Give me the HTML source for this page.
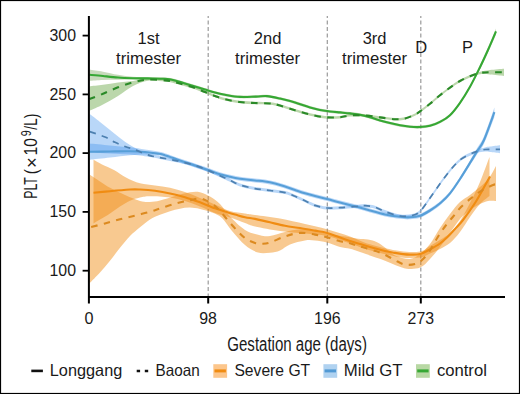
<!DOCTYPE html>
<html><head><meta charset="utf-8"><style>
html,body{margin:0;padding:0;background:#fff;}
body{width:520px;height:394px;overflow:hidden;position:relative;font-family:"Liberation Sans",sans-serif;}
</style></head><body>
<svg width="520" height="394" viewBox="0 0 520 394" style="position:absolute;left:0;top:0">
<rect x="0" y="0" width="520" height="394" fill="#fff"/>
<line x1="208.2" y1="16" x2="208.2" y2="297" stroke="#9a9a9a" stroke-width="1.2" stroke-dasharray="4 2.5" stroke-dashoffset="1.9"/>
<line x1="327.3" y1="16" x2="327.3" y2="297" stroke="#9a9a9a" stroke-width="1.2" stroke-dasharray="4 2.5" stroke-dashoffset="1.9"/>
<line x1="420.8" y1="16" x2="420.8" y2="297" stroke="#9a9a9a" stroke-width="1.2" stroke-dasharray="4 2.5" stroke-dashoffset="1.9"/>
<path d="M89.5 69.5C91.8 69.9 98.2 70.8 103.0 71.7C107.8 72.6 113.0 74.0 118.0 74.8C123.0 75.6 128.0 76.4 133.0 76.8C138.0 77.2 142.7 77.1 148.0 77.2C153.3 77.3 160.5 77.1 165.0 77.4C169.5 77.7 171.7 78.2 175.0 79.0C178.3 79.8 181.7 81.1 185.0 82.1C188.3 83.1 191.7 84.1 195.0 85.1C198.3 86.1 201.7 87.2 205.0 88.2C208.3 89.2 211.7 90.3 215.0 91.2C218.3 92.1 220.8 92.7 225.0 93.4C229.2 94.1 234.8 95.2 240.0 95.5C245.2 95.8 251.5 95.3 256.0 95.2C260.5 95.1 263.0 94.4 267.0 94.7C271.0 95.0 275.3 96.1 280.0 97.2C284.7 98.3 290.0 99.6 295.0 101.1C300.0 102.6 305.0 104.6 310.0 106.0C315.0 107.4 320.0 108.6 325.0 109.4C330.0 110.2 335.8 110.6 340.0 111.0C344.2 111.4 346.7 111.6 350.0 112.0C353.3 112.4 356.7 112.7 360.0 113.3C363.3 113.9 366.7 114.9 370.0 115.9C373.3 116.8 376.7 118.0 380.0 119.0C383.3 120.0 386.7 120.9 390.0 121.7C393.3 122.5 396.7 123.3 400.0 123.9C403.3 124.5 406.7 125.0 410.0 125.3C413.3 125.6 416.7 125.8 420.0 125.6C423.3 125.4 426.7 125.1 430.0 124.3C433.3 123.5 436.7 122.2 440.0 120.5C443.3 118.8 446.7 117.0 450.0 113.8C453.3 110.6 456.7 106.1 460.0 101.4C463.3 96.7 466.7 91.4 470.0 85.4C473.3 79.4 477.0 71.4 480.0 65.1C483.0 58.8 485.3 53.6 488.0 47.5C490.7 41.3 494.7 31.6 496.0 28.4L496.0 34.4C494.7 37.4 490.7 46.7 488.0 52.5C485.3 58.4 483.0 63.3 480.0 69.3C477.0 75.2 473.3 82.4 470.0 88.2C466.7 94.0 463.3 99.5 460.0 104.2C456.7 108.9 453.3 113.4 450.0 116.6C446.7 119.8 443.3 121.6 440.0 123.3C436.7 125.1 433.3 126.3 430.0 127.1C426.7 128.0 423.3 128.2 420.0 128.4C416.7 128.6 413.3 128.4 410.0 128.1C406.7 127.8 403.3 127.3 400.0 126.7C396.7 126.1 393.3 125.3 390.0 124.5C386.7 123.7 383.3 122.8 380.0 121.8C376.7 120.8 373.3 119.7 370.0 118.7C366.7 117.8 363.3 116.8 360.0 116.1C356.7 115.5 353.3 115.2 350.0 114.8C346.7 114.4 344.2 114.2 340.0 113.8C335.8 113.4 330.0 113.0 325.0 112.2C320.0 111.4 315.0 110.2 310.0 108.8C305.0 107.4 300.0 105.4 295.0 103.9C290.0 102.4 284.7 101.1 280.0 100.0C275.3 98.9 271.0 97.8 267.0 97.5C263.0 97.2 260.5 97.9 256.0 98.0C251.5 98.1 245.2 98.6 240.0 98.3C234.8 98.0 229.2 96.9 225.0 96.2C220.8 95.5 218.3 94.9 215.0 94.0C211.7 93.1 208.3 92.0 205.0 91.0C201.7 90.0 198.3 88.9 195.0 87.9C191.7 86.9 188.3 85.9 185.0 84.9C181.7 83.9 178.3 82.6 175.0 81.8C171.7 81.0 169.5 80.5 165.0 80.2C160.5 79.9 153.3 79.9 148.0 79.8C142.7 79.7 138.0 79.6 133.0 79.6C128.0 79.6 123.0 79.7 118.0 79.8C113.0 79.9 107.8 79.9 103.0 80.1C98.2 80.3 91.8 80.8 89.5 80.9Z" fill="#7aa85e" fill-opacity="0.42"/>
<path d="M89.5 86.2C91.8 86.0 98.2 85.3 103.0 84.7C107.8 84.1 113.0 83.0 118.0 82.4C123.0 81.8 128.0 81.6 133.0 80.9C138.0 80.2 142.7 78.6 148.0 78.3C153.3 78.0 160.5 78.8 165.0 79.2C169.5 79.7 171.7 80.2 175.0 81.0C178.3 81.8 181.7 82.8 185.0 83.8C188.3 84.8 191.7 85.6 195.0 86.8C198.3 88.0 201.7 89.5 205.0 90.8C208.3 92.1 211.7 93.6 215.0 94.8C218.3 96.0 220.8 97.0 225.0 98.0C229.2 99.0 235.0 100.2 240.0 100.8C245.0 101.4 250.0 101.5 255.0 101.8C260.0 102.0 265.8 101.9 270.0 102.3C274.2 102.7 275.8 103.2 280.0 104.3C284.2 105.4 290.0 107.6 295.0 109.1C300.0 110.6 305.0 112.1 310.0 113.3C315.0 114.5 320.0 115.5 325.0 116.0C330.0 116.5 335.8 116.3 340.0 116.0C344.2 115.7 345.8 114.5 350.0 114.2C354.2 113.9 360.0 113.9 365.0 114.2C370.0 114.5 375.0 115.6 380.0 116.2C385.0 116.8 390.8 117.8 395.0 118.0C399.2 118.2 401.7 118.1 405.0 117.3C408.3 116.5 412.5 114.6 415.0 113.4C417.5 112.2 417.5 112.0 420.0 110.2C422.5 108.4 426.7 105.3 430.0 102.6C433.3 99.9 436.7 96.7 440.0 94.0C443.3 91.3 446.7 88.8 450.0 86.4C453.3 84.0 456.7 81.7 460.0 79.8C463.3 77.9 466.7 76.3 470.0 75.0C473.3 73.7 476.7 72.6 480.0 71.8C483.3 71.0 486.0 70.5 490.0 70.0C494.0 69.5 501.7 68.9 504.0 68.7L504.0 75.9C501.7 75.6 494.0 74.7 490.0 74.4C486.0 74.1 483.3 73.7 480.0 74.2C476.7 74.7 473.3 76.1 470.0 77.4C466.7 78.7 463.3 80.3 460.0 82.2C456.7 84.1 453.3 86.4 450.0 88.8C446.7 91.2 443.3 93.7 440.0 96.4C436.7 99.1 433.3 102.3 430.0 105.0C426.7 107.7 422.5 110.8 420.0 112.6C417.5 114.4 417.5 114.6 415.0 115.8C412.5 117.0 408.3 118.9 405.0 119.7C401.7 120.5 399.2 120.6 395.0 120.4C390.8 120.2 385.0 119.2 380.0 118.6C375.0 118.0 370.0 116.9 365.0 116.6C360.0 116.3 354.2 116.3 350.0 116.6C345.8 116.9 344.2 118.1 340.0 118.4C335.8 118.7 330.0 118.9 325.0 118.4C320.0 118.0 315.0 116.9 310.0 115.7C305.0 114.5 300.0 113.0 295.0 111.5C290.0 110.0 284.2 107.8 280.0 106.7C275.8 105.6 274.2 105.1 270.0 104.7C265.8 104.3 260.0 104.5 255.0 104.2C250.0 104.0 245.0 103.8 240.0 103.2C235.0 102.6 229.2 101.4 225.0 100.4C220.8 99.4 218.3 98.4 215.0 97.2C211.7 96.0 208.3 94.5 205.0 93.2C201.7 91.9 198.3 90.4 195.0 89.2C191.7 88.0 188.3 87.2 185.0 86.2C181.7 85.2 178.3 84.2 175.0 83.4C171.7 82.6 169.5 82.0 165.0 81.6C160.5 81.2 153.3 80.1 148.0 80.8C142.7 81.5 138.0 83.5 133.0 86.0C128.0 88.5 123.0 92.9 118.0 96.0C113.0 99.1 107.8 102.0 103.0 104.5C98.2 107.0 91.8 109.8 89.5 110.8Z" fill="#6aa848" fill-opacity="0.46"/>
<path d="M89.5 143.5C92.9 143.8 103.2 144.8 110.0 145.4C116.8 146.0 124.2 146.6 130.0 147.3C135.8 147.9 140.3 148.8 145.0 149.5C149.7 150.2 154.7 151.0 158.0 151.6C161.3 152.2 161.3 152.0 165.0 153.2C168.7 154.3 175.0 156.8 180.0 158.5C185.0 160.2 190.3 162.0 195.0 163.6C199.7 165.2 203.8 166.6 208.0 168.0C212.2 169.4 216.3 171.1 220.0 172.2C223.7 173.3 226.7 174.0 230.0 174.8C233.3 175.6 235.8 176.2 240.0 176.8C244.2 177.4 250.8 178.1 255.0 178.5C259.2 178.9 261.7 179.0 265.0 179.5C268.3 180.0 271.7 180.7 275.0 181.5C278.3 182.3 281.7 183.5 285.0 184.6C288.3 185.7 291.7 186.9 295.0 188.0C298.3 189.1 301.7 190.3 305.0 191.3C308.3 192.3 311.3 193.1 315.0 194.0C318.7 194.9 322.8 195.9 327.0 197.0C331.2 198.1 335.3 199.3 340.0 200.5C344.7 201.7 350.0 202.9 355.0 204.2C360.0 205.5 365.0 207.1 370.0 208.5C375.0 209.9 380.0 211.4 385.0 212.5C390.0 213.6 395.8 214.3 400.0 214.8C404.2 215.3 406.7 215.5 410.0 215.3C413.3 215.1 416.7 214.9 420.0 213.8C423.3 212.7 426.5 210.7 430.0 208.5C433.5 206.3 437.7 203.4 441.0 200.5C444.3 197.6 446.8 195.2 450.0 191.3C453.2 187.4 456.7 182.1 460.0 177.0C463.3 171.9 467.2 165.2 470.0 160.4C472.8 155.6 474.7 152.3 477.0 148.3C479.3 144.2 481.1 143.0 484.0 136.2C486.9 129.4 492.7 112.2 494.4 107.4L494.4 117.0C492.7 121.5 486.9 137.6 484.0 143.8C481.1 150.1 479.3 150.9 477.0 154.5C474.7 158.1 472.8 161.0 470.0 165.4C467.2 169.8 463.3 176.0 460.0 181.0C456.7 186.0 453.2 191.4 450.0 195.3C446.8 199.2 444.3 201.6 441.0 204.5C437.7 207.4 433.5 210.3 430.0 212.5C426.5 214.7 423.3 216.7 420.0 217.8C416.7 218.9 413.3 219.1 410.0 219.3C406.7 219.5 404.2 219.3 400.0 218.8C395.8 218.3 390.0 217.6 385.0 216.5C380.0 215.4 375.0 213.9 370.0 212.5C365.0 211.1 360.0 209.5 355.0 208.2C350.0 206.9 344.7 205.7 340.0 204.5C335.3 203.3 331.2 202.1 327.0 201.0C322.8 199.9 318.7 198.9 315.0 198.0C311.3 197.1 308.3 196.3 305.0 195.3C301.7 194.3 298.3 193.1 295.0 192.0C291.7 190.9 288.3 189.7 285.0 188.6C281.7 187.5 278.3 186.3 275.0 185.5C271.7 184.7 268.3 184.0 265.0 183.5C261.7 183.0 259.2 182.9 255.0 182.5C250.8 182.1 244.2 181.4 240.0 180.8C235.8 180.2 233.3 179.6 230.0 178.8C226.7 178.0 223.7 177.3 220.0 176.2C216.3 175.1 212.2 173.4 208.0 172.0C203.8 170.6 199.7 169.2 195.0 167.6C190.3 166.0 185.0 164.2 180.0 162.5C175.0 160.8 168.7 158.3 165.0 157.2C161.3 156.0 161.3 156.0 158.0 155.6C154.7 155.2 149.7 154.6 145.0 154.5C140.3 154.5 135.8 154.8 130.0 155.3C124.2 155.9 116.8 156.8 110.0 157.6C103.2 158.4 92.9 159.5 89.5 159.9Z" fill="#3c91eb" fill-opacity="0.36"/>
<path d="M89.5 113.8C91.2 115.2 96.6 119.2 100.0 121.9C103.4 124.6 106.7 127.2 110.0 129.9C113.3 132.6 116.7 135.4 120.0 137.9C123.3 140.4 126.7 142.9 130.0 145.0C133.3 147.1 136.7 149.0 140.0 150.5C143.3 152.0 145.8 153.0 150.0 154.1C154.2 155.2 160.0 156.0 165.0 157.0C170.0 158.0 175.0 158.8 180.0 160.0C185.0 161.2 190.3 162.4 195.0 163.9C199.7 165.4 203.8 167.1 208.0 168.8C212.2 170.5 216.3 172.6 220.0 174.3C223.7 176.0 226.7 177.3 230.0 178.8C233.3 180.3 235.8 182.1 240.0 183.5C244.2 184.9 250.0 186.2 255.0 187.1C260.0 188.0 265.0 188.3 270.0 189.0C275.0 189.7 280.8 190.1 285.0 191.1C289.2 192.1 291.7 193.4 295.0 194.8C298.3 196.2 301.7 197.8 305.0 199.3C308.3 200.8 311.3 202.7 315.0 203.9C318.7 205.1 322.8 206.1 327.0 206.5C331.2 206.9 335.3 206.4 340.0 206.2C344.7 205.9 350.8 205.3 355.0 205.0C359.2 204.7 361.7 204.1 365.0 204.2C368.3 204.3 371.7 204.7 375.0 205.7C378.3 206.7 380.8 208.5 385.0 210.0C389.2 211.5 395.5 213.8 400.0 214.5C404.5 215.2 408.7 214.8 412.0 214.0C415.3 213.2 417.0 212.9 420.0 210.0C423.0 207.1 426.7 201.2 430.0 196.6C433.3 192.0 436.7 186.9 440.0 182.3C443.3 177.7 446.7 173.0 450.0 169.0C453.3 165.0 456.7 161.2 460.0 158.5C463.3 155.8 467.2 154.2 470.0 152.8C472.8 151.4 474.5 150.8 477.0 149.9C479.5 149.0 482.8 147.9 485.0 147.4C487.2 146.8 487.5 146.9 490.0 146.6C492.5 146.2 498.3 145.5 500.0 145.3L500.0 153.3C498.3 153.1 492.5 152.3 490.0 152.1C487.5 151.8 487.2 151.5 485.0 151.6C482.8 151.8 479.5 152.2 477.0 152.9C474.5 153.6 472.8 154.4 470.0 155.8C467.2 157.2 463.3 158.8 460.0 161.5C456.7 164.2 453.3 168.0 450.0 172.0C446.7 176.0 443.3 180.7 440.0 185.3C436.7 189.9 433.3 195.0 430.0 199.6C426.7 204.2 423.0 210.1 420.0 213.0C417.0 215.9 415.3 216.2 412.0 217.0C408.7 217.8 404.5 218.2 400.0 217.5C395.5 216.8 389.2 214.5 385.0 213.0C380.8 211.5 378.3 209.7 375.0 208.7C371.7 207.7 368.3 207.3 365.0 207.2C361.7 207.1 359.2 207.7 355.0 208.0C350.8 208.3 344.7 208.9 340.0 209.2C335.3 209.4 331.2 209.9 327.0 209.5C322.8 209.1 318.7 208.1 315.0 206.9C311.3 205.7 308.3 203.8 305.0 202.3C301.7 200.8 298.3 199.2 295.0 197.8C291.7 196.4 289.2 195.1 285.0 194.1C280.8 193.1 275.0 192.7 270.0 192.0C265.0 191.3 260.0 191.0 255.0 190.1C250.0 189.2 244.2 187.9 240.0 186.5C235.8 185.1 233.3 183.3 230.0 181.8C226.7 180.3 223.7 179.0 220.0 177.3C216.3 175.6 212.2 173.5 208.0 171.8C203.8 170.1 199.7 168.4 195.0 166.9C190.3 165.4 185.0 164.2 180.0 163.0C175.0 161.8 170.0 161.0 165.0 160.0C160.0 159.0 154.2 157.8 150.0 157.1C145.8 156.3 143.3 155.9 140.0 155.5C136.7 155.1 133.3 154.8 130.0 154.5C126.7 154.2 123.3 154.2 120.0 154.0C116.7 153.8 113.3 153.7 110.0 153.5C106.7 153.3 103.4 153.2 100.0 153.0C96.6 152.8 91.2 152.5 89.5 152.4Z" fill="#3c91eb" fill-opacity="0.36"/>
<path d="M93.5 159.8C94.9 160.6 98.6 162.8 102.0 164.5C105.4 166.2 110.0 167.8 114.0 170.0C118.0 172.2 121.7 175.3 126.0 177.5C130.3 179.7 135.2 182.0 140.0 183.3C144.8 184.6 150.0 184.8 155.0 185.5C160.0 186.2 165.0 186.7 170.0 187.8C175.0 188.9 180.0 190.3 185.0 192.0C190.0 193.7 195.0 195.9 200.0 198.0C205.0 200.1 210.0 202.3 215.0 204.5C220.0 206.7 225.0 209.5 230.0 211.0C235.0 212.5 240.8 212.8 245.0 213.5C249.2 214.2 249.2 214.2 255.0 215.0C260.8 215.8 271.7 217.0 280.0 218.5C288.3 220.0 297.2 222.2 305.0 224.0C312.8 225.8 319.5 227.2 327.0 229.3C334.5 231.4 342.8 233.9 350.0 236.4C357.2 238.9 361.7 241.8 370.0 244.2C378.3 246.6 391.7 249.9 400.0 251.1C408.3 252.3 415.0 252.3 420.0 251.5C425.0 250.7 426.7 247.9 430.0 246.0C433.3 244.1 436.7 242.2 440.0 240.0C443.3 237.8 446.7 236.2 450.0 233.0C453.3 229.8 456.7 226.0 460.0 221.0C463.3 216.0 466.7 209.5 470.0 203.0C473.3 196.5 476.8 189.7 480.0 182.0C483.2 174.3 487.9 161.2 489.5 157.0L489.5 196.0C487.9 197.3 483.2 200.5 480.0 204.0C476.8 207.5 473.3 212.3 470.0 217.0C466.7 221.7 463.3 227.7 460.0 232.0C456.7 236.3 453.3 240.2 450.0 243.0C446.7 245.8 443.3 247.2 440.0 249.0C436.7 250.8 433.3 252.1 430.0 253.5C426.7 254.9 425.0 256.9 420.0 257.5C415.0 258.1 408.3 258.4 400.0 257.2C391.7 256.0 378.3 252.6 370.0 250.3C361.7 248.0 357.2 245.9 350.0 243.5C342.8 241.1 334.5 237.7 327.0 236.0C319.5 234.3 312.8 234.3 305.0 233.5C297.2 232.7 288.3 232.2 280.0 231.0C271.7 229.8 260.8 227.8 255.0 226.5C249.2 225.2 249.2 224.5 245.0 223.0C240.8 221.5 235.0 219.2 230.0 217.5C225.0 215.8 220.0 214.8 215.0 213.0C210.0 211.2 205.0 208.5 200.0 206.5C195.0 204.5 190.0 202.5 185.0 201.0C180.0 199.5 175.8 198.3 170.0 197.5C164.2 196.7 155.0 196.2 150.0 196.2C145.0 196.2 143.3 196.8 140.0 197.6C136.7 198.4 133.3 199.3 130.0 200.8C126.7 202.3 123.3 204.4 120.0 206.5C116.7 208.6 113.3 211.3 110.0 213.5C106.7 215.7 102.8 217.8 100.0 219.5C97.2 221.2 94.6 222.8 93.5 223.5Z" fill="#f08c14" fill-opacity="0.47"/>
<path d="M89.5 174.6C91.2 175.8 96.4 179.2 100.0 181.5C103.6 183.8 106.8 186.1 111.0 188.3C115.2 190.6 120.2 192.9 125.0 195.0C129.8 197.1 135.8 199.8 140.0 201.0C144.2 202.2 146.7 202.1 150.0 202.0C153.3 201.9 155.8 201.5 160.0 200.5C164.2 199.5 170.0 197.4 175.0 196.0C180.0 194.6 185.8 192.8 190.0 192.2C194.2 191.6 196.7 191.5 200.0 192.2C203.3 192.9 206.7 194.6 210.0 196.6C213.3 198.6 216.7 200.7 220.0 204.0C223.3 207.3 225.8 212.3 230.0 216.6C234.2 220.9 240.0 226.9 245.0 230.0C250.0 233.1 255.8 234.3 260.0 235.3C264.2 236.3 265.8 236.6 270.0 236.0C274.2 235.4 280.0 233.1 285.0 232.0C290.0 230.9 295.0 229.6 300.0 229.3C305.0 229.1 310.5 229.8 315.0 230.5C319.5 231.2 322.0 232.7 327.0 233.7C332.0 234.7 339.8 235.7 345.0 236.5C350.2 237.3 354.2 238.3 358.0 238.8C361.8 239.3 364.8 239.0 368.0 239.6C371.2 240.2 374.2 241.0 377.0 242.3C379.8 243.6 382.0 245.3 385.0 247.5C388.0 249.7 390.8 253.6 395.0 255.5C399.2 257.4 405.8 259.1 410.0 258.9C414.2 258.6 416.7 256.5 420.0 254.0C423.3 251.5 426.7 248.3 430.0 244.0C433.3 239.7 436.7 233.0 440.0 228.0C443.3 223.0 446.7 218.3 450.0 214.0C453.3 209.7 456.7 205.2 460.0 202.0C463.3 198.8 466.7 197.5 470.0 195.0C473.3 192.5 476.8 189.8 480.0 187.0C483.2 184.2 486.3 181.5 489.0 178.0C491.7 174.5 494.8 168.0 496.0 166.0L496.0 201.0C494.7 201.0 490.7 200.5 488.0 201.0C485.3 201.5 483.0 202.5 480.0 204.0C477.0 205.5 473.3 207.5 470.0 210.0C466.7 212.5 463.3 215.2 460.0 219.0C456.7 222.8 453.3 228.3 450.0 233.0C446.7 237.7 443.3 242.7 440.0 247.0C436.7 251.3 433.3 255.6 430.0 259.0C426.7 262.4 424.2 266.0 420.0 267.6C415.8 269.2 410.8 269.5 405.0 268.4C399.2 267.2 392.5 263.4 385.0 260.7C377.5 258.0 365.8 254.0 360.0 252.0C354.2 250.0 353.3 249.6 350.0 248.8C346.7 248.0 343.8 248.0 340.0 247.0C336.2 246.0 331.2 243.7 327.0 242.6C322.8 241.5 318.7 240.8 315.0 240.5C311.3 240.2 309.2 239.8 305.0 240.5C300.8 241.2 294.2 242.8 290.0 244.5C285.8 246.2 283.3 249.1 280.0 250.5C276.7 251.9 273.7 252.4 270.0 252.7C266.3 253.0 262.2 253.8 258.0 252.5C253.8 251.2 249.3 248.6 245.0 245.0C240.7 241.4 235.8 235.5 232.0 231.0C228.2 226.5 225.3 221.1 222.0 218.0C218.7 214.9 215.7 214.0 212.0 212.5C208.3 211.0 203.7 209.8 200.0 209.0C196.3 208.2 193.3 207.7 190.0 207.6C186.7 207.5 183.3 208.1 180.0 208.7C176.7 209.3 173.3 210.2 170.0 211.2C166.7 212.2 163.3 213.4 160.0 214.8C156.7 216.2 153.3 217.4 150.0 219.5C146.7 221.6 143.3 224.6 140.0 227.3C136.7 230.1 133.3 232.6 130.0 236.0C126.7 239.4 123.3 243.7 120.0 247.8C116.7 251.9 113.3 256.7 110.0 260.8C106.7 264.9 103.4 268.8 100.0 272.6C96.6 276.4 91.2 281.6 89.5 283.4Z" fill="#f08c14" fill-opacity="0.47"/>
<g fill="none" stroke-width="2.1" stroke-linejoin="round">
<path d="M89.5 74.8C91.8 75.0 98.2 75.5 103.0 76.0C107.8 76.5 113.0 77.1 118.0 77.5C123.0 77.9 128.0 78.1 133.0 78.3C138.0 78.5 142.7 78.3 148.0 78.4C153.3 78.5 160.5 78.5 165.0 78.8C169.5 79.1 171.7 79.6 175.0 80.4C178.3 81.2 181.7 82.5 185.0 83.5C188.3 84.5 191.7 85.5 195.0 86.5C198.3 87.5 201.7 88.6 205.0 89.6C208.3 90.6 211.7 91.7 215.0 92.6C218.3 93.5 220.8 94.1 225.0 94.8C229.2 95.5 234.8 96.6 240.0 96.9C245.2 97.2 251.5 96.7 256.0 96.6C260.5 96.5 263.0 95.8 267.0 96.1C271.0 96.4 275.3 97.5 280.0 98.6C284.7 99.7 290.0 101.0 295.0 102.5C300.0 104.0 305.0 106.0 310.0 107.4C315.0 108.8 320.0 110.0 325.0 110.8C330.0 111.6 335.8 112.0 340.0 112.4C344.2 112.8 346.7 113.0 350.0 113.4C353.3 113.8 356.7 114.1 360.0 114.7C363.3 115.3 366.7 116.3 370.0 117.3C373.3 118.2 376.7 119.4 380.0 120.4C383.3 121.4 386.7 122.3 390.0 123.1C393.3 123.9 396.7 124.7 400.0 125.3C403.3 125.9 406.7 126.4 410.0 126.7C413.3 127.0 416.7 127.2 420.0 127.0C423.3 126.8 426.7 126.5 430.0 125.7C433.3 124.9 436.7 123.7 440.0 121.9C443.3 120.2 446.7 118.4 450.0 115.2C453.3 112.0 456.7 107.5 460.0 102.8C463.3 98.1 466.7 92.7 470.0 86.8C473.3 80.9 477.0 73.3 480.0 67.2C483.0 61.1 485.3 56.0 488.0 50.0C490.7 44.0 494.7 34.5 496.0 31.4" stroke="#36a834"/>
<path d="M89.5 99.1C91.8 98.2 98.2 95.8 103.0 93.8C107.8 91.8 113.0 89.2 118.0 87.3C123.0 85.4 128.0 83.7 133.0 82.4C138.0 81.1 142.7 79.9 148.0 79.6C153.3 79.3 160.5 80.0 165.0 80.4C169.5 80.8 171.7 81.4 175.0 82.2C178.3 83.0 181.7 84.0 185.0 85.0C188.3 86.0 191.7 86.8 195.0 88.0C198.3 89.2 201.7 90.7 205.0 92.0C208.3 93.3 211.7 94.8 215.0 96.0C218.3 97.2 220.8 98.2 225.0 99.2C229.2 100.2 235.0 101.4 240.0 102.0C245.0 102.6 250.0 102.8 255.0 103.0C260.0 103.2 265.8 103.1 270.0 103.5C274.2 103.9 275.8 104.4 280.0 105.5C284.2 106.6 290.0 108.8 295.0 110.3C300.0 111.8 305.0 113.3 310.0 114.5C315.0 115.7 320.0 116.8 325.0 117.2C330.0 117.7 335.8 117.5 340.0 117.2C344.2 116.9 345.8 115.7 350.0 115.4C354.2 115.1 360.0 115.1 365.0 115.4C370.0 115.7 375.0 116.8 380.0 117.4C385.0 118.0 390.8 119.0 395.0 119.2C399.2 119.4 401.7 119.3 405.0 118.5C408.3 117.7 412.5 115.8 415.0 114.6C417.5 113.4 417.5 113.2 420.0 111.4C422.5 109.6 426.7 106.5 430.0 103.8C433.3 101.1 436.7 97.9 440.0 95.2C443.3 92.5 446.7 90.0 450.0 87.6C453.3 85.2 456.7 82.9 460.0 81.0C463.3 79.1 466.7 77.5 470.0 76.2C473.3 74.9 476.7 73.7 480.0 73.0C483.3 72.3 486.0 72.3 490.0 72.2C494.0 72.1 501.7 72.3 504.0 72.3" stroke="#2a8a28" stroke-dasharray="6.6 6.4" stroke-dashoffset="0.7"/>
<path d="M89.5 151.7C92.9 151.7 103.2 151.6 110.0 151.5C116.8 151.4 124.2 151.2 130.0 151.3C135.8 151.4 140.3 151.6 145.0 152.0C149.7 152.4 154.7 153.1 158.0 153.6C161.3 154.1 161.3 154.0 165.0 155.2C168.7 156.3 175.0 158.8 180.0 160.5C185.0 162.2 190.3 164.0 195.0 165.6C199.7 167.2 203.8 168.6 208.0 170.0C212.2 171.4 216.3 173.1 220.0 174.2C223.7 175.3 226.7 176.0 230.0 176.8C233.3 177.6 235.8 178.2 240.0 178.8C244.2 179.4 250.8 180.1 255.0 180.5C259.2 180.9 261.7 181.0 265.0 181.5C268.3 182.0 271.7 182.7 275.0 183.5C278.3 184.3 281.7 185.5 285.0 186.6C288.3 187.7 291.7 188.9 295.0 190.0C298.3 191.1 301.7 192.3 305.0 193.3C308.3 194.3 311.3 195.1 315.0 196.0C318.7 196.9 322.8 197.9 327.0 199.0C331.2 200.1 335.3 201.3 340.0 202.5C344.7 203.7 350.0 204.9 355.0 206.2C360.0 207.5 365.0 209.1 370.0 210.5C375.0 211.9 380.0 213.4 385.0 214.5C390.0 215.6 395.8 216.3 400.0 216.8C404.2 217.3 406.7 217.5 410.0 217.3C413.3 217.1 416.7 216.9 420.0 215.8C423.3 214.7 426.5 212.7 430.0 210.5C433.5 208.3 437.7 205.4 441.0 202.5C444.3 199.6 446.8 197.2 450.0 193.3C453.2 189.4 456.7 184.1 460.0 179.0C463.3 173.9 467.2 167.5 470.0 162.9C472.8 158.3 474.7 155.2 477.0 151.4C479.3 147.6 481.1 146.5 484.0 140.0C486.9 133.5 492.7 116.8 494.4 112.2" stroke="#579fd8"/>
<path d="M89.5 131.6C92.1 132.5 100.8 135.2 105.0 137.0C109.2 138.8 111.7 140.7 115.0 142.3C118.3 143.9 121.7 145.2 125.0 146.5C128.3 147.8 130.8 148.3 135.0 149.8C139.2 151.3 145.0 154.2 150.0 155.6C155.0 157.0 160.0 157.5 165.0 158.5C170.0 159.5 175.0 160.3 180.0 161.5C185.0 162.7 190.3 163.9 195.0 165.4C199.7 166.9 203.8 168.6 208.0 170.3C212.2 172.0 216.3 174.1 220.0 175.8C223.7 177.5 226.7 178.8 230.0 180.3C233.3 181.8 235.8 183.6 240.0 185.0C244.2 186.4 250.0 187.7 255.0 188.6C260.0 189.5 265.0 189.8 270.0 190.5C275.0 191.2 280.8 191.6 285.0 192.6C289.2 193.6 291.7 194.9 295.0 196.3C298.3 197.7 301.7 199.3 305.0 200.8C308.3 202.3 311.3 204.2 315.0 205.4C318.7 206.6 322.8 207.6 327.0 208.0C331.2 208.4 335.3 207.9 340.0 207.7C344.7 207.4 350.8 206.8 355.0 206.5C359.2 206.2 361.7 205.6 365.0 205.7C368.3 205.8 371.7 206.2 375.0 207.2C378.3 208.2 380.8 210.0 385.0 211.5C389.2 213.0 395.5 215.3 400.0 216.0C404.5 216.7 408.7 216.2 412.0 215.5C415.3 214.8 417.0 214.4 420.0 211.5C423.0 208.6 426.7 202.7 430.0 198.1C433.3 193.5 436.7 188.4 440.0 183.8C443.3 179.2 446.7 174.5 450.0 170.5C453.3 166.5 456.7 162.7 460.0 160.0C463.3 157.3 467.2 155.7 470.0 154.3C472.8 152.9 474.5 152.2 477.0 151.4C479.5 150.6 482.8 149.8 485.0 149.5C487.2 149.2 487.5 149.3 490.0 149.3C492.5 149.3 498.3 149.3 500.0 149.3" stroke="#4d80b0" stroke-width="1.7" stroke-dasharray="6.4 6.1" stroke-dashoffset="12.2"/>
<path d="M93.5 192.8C96.2 192.5 103.9 191.8 110.0 191.2C116.1 190.6 125.0 189.8 130.0 189.5C135.0 189.2 135.8 189.3 140.0 189.5C144.2 189.7 150.0 190.1 155.0 190.8C160.0 191.5 165.0 192.4 170.0 193.5C175.0 194.6 180.0 195.7 185.0 197.2C190.0 198.7 195.0 200.5 200.0 202.3C205.0 204.2 210.8 206.8 215.0 208.3C219.2 209.8 221.7 210.5 225.0 211.5C228.3 212.5 231.7 213.6 235.0 214.5C238.3 215.4 241.7 216.5 245.0 217.2C248.3 217.9 250.8 218.1 255.0 218.9C259.2 219.8 265.0 221.2 270.0 222.3C275.0 223.5 280.0 224.9 285.0 225.8C290.0 226.8 295.0 227.2 300.0 228.0C305.0 228.8 310.5 229.8 315.0 230.6C319.5 231.4 322.8 231.7 327.0 232.9C331.2 234.1 336.2 236.3 340.0 237.6C343.8 238.9 346.7 239.8 350.0 240.9C353.3 242.0 356.7 243.0 360.0 244.0C363.3 245.0 365.8 245.8 370.0 247.0C374.2 248.2 380.8 250.0 385.0 251.0C389.2 252.0 392.0 252.4 395.0 252.9C398.0 253.4 400.5 253.8 403.0 254.1C405.5 254.4 407.2 254.6 410.0 254.6C412.8 254.6 416.7 254.9 420.0 254.0C423.3 253.1 426.7 251.1 430.0 249.3C433.3 247.6 437.1 245.6 440.0 243.5C442.9 241.4 445.0 239.4 447.5 237.0C450.0 234.6 452.4 231.8 455.0 229.0C457.6 226.2 459.7 224.3 463.0 220.0C466.3 215.7 471.3 208.8 475.0 203.0C478.7 197.2 482.5 189.9 485.0 185.5C487.5 181.1 489.2 178.0 490.0 176.5" stroke="#f08c12"/>
<path d="M89.5 227.5C92.1 226.8 99.9 224.8 105.0 223.4C110.1 222.0 115.0 220.6 120.0 219.3C125.0 218.0 130.0 216.8 135.0 215.6C140.0 214.3 145.8 213.0 150.0 211.8C154.2 210.6 155.8 209.9 160.0 208.6C164.2 207.3 170.0 205.2 175.0 203.8C180.0 202.4 185.8 201.1 190.0 200.2C194.2 199.3 197.0 198.2 200.0 198.4C203.0 198.6 205.5 200.2 208.0 201.5C210.5 202.8 213.0 204.4 215.0 206.0C217.0 207.6 217.8 208.6 220.0 211.0C222.2 213.4 225.2 217.2 228.0 220.5C230.8 223.8 234.1 227.5 237.0 230.5C239.9 233.5 242.5 236.3 245.5 238.4C248.5 240.5 252.2 242.1 255.0 243.0C257.8 243.9 259.5 243.9 262.0 243.8C264.5 243.7 266.2 243.8 270.0 242.6C273.8 241.4 280.0 238.0 285.0 236.4C290.0 234.8 295.0 233.2 300.0 232.9C305.0 232.6 310.5 233.9 315.0 234.6C319.5 235.3 322.8 236.2 327.0 237.3C331.2 238.4 336.2 240.3 340.0 241.3C343.8 242.3 346.7 242.4 350.0 243.3C353.3 244.2 355.8 245.2 360.0 246.5C364.2 247.8 370.8 249.4 375.0 250.8C379.2 252.2 381.7 253.2 385.0 254.8C388.3 256.4 391.7 258.6 395.0 260.2C398.3 261.8 401.7 264.0 405.0 264.6C408.3 265.2 412.2 264.9 415.0 264.1C417.8 263.4 419.5 262.4 422.0 260.1C424.5 257.8 427.4 254.3 430.0 250.5C432.6 246.7 435.0 241.5 437.5 237.5C440.0 233.5 442.4 230.0 445.0 226.5C447.6 223.0 450.3 219.9 453.0 216.7C455.7 213.4 457.9 210.2 461.0 207.0C464.1 203.8 468.3 200.5 471.7 197.8C475.1 195.1 478.1 192.7 481.6 190.6C485.2 188.5 490.6 186.0 493.0 185.0C495.4 184.0 495.5 184.6 496.0 184.5" stroke="#dc8a20" stroke-dasharray="6.4 6.4" stroke-dashoffset="10.9"/>
</g>
<g stroke="#000" stroke-width="2" fill="none">
<line x1="88.9" y1="16" x2="88.9" y2="303.5"/>
<line x1="88" y1="297" x2="505" y2="297"/>
<line x1="208.2" y1="296" x2="208.2" y2="303.5"/>
<line x1="327.3" y1="296" x2="327.3" y2="303.5"/>
<line x1="420.8" y1="296" x2="420.8" y2="303.5"/>
<line x1="82.6" y1="35.6" x2="89" y2="35.6" stroke-width="1.8"/>
<line x1="82.6" y1="94.4" x2="89" y2="94.4" stroke-width="1.8"/>
<line x1="82.6" y1="153.1" x2="89" y2="153.1" stroke-width="1.8"/>
<line x1="82.6" y1="211.9" x2="89" y2="211.9" stroke-width="1.8"/>
<line x1="82.6" y1="270.7" x2="89" y2="270.7" stroke-width="1.8"/>
</g>
<g font-family="Liberation Sans, sans-serif" font-size="17" fill="#1a1a1a" text-anchor="end">
<text x="76" y="40.800000000000004" textLength="26.5" lengthAdjust="spacingAndGlyphs">300</text>
<text x="76" y="99.60000000000001" textLength="26.5" lengthAdjust="spacingAndGlyphs">250</text>
<text x="76" y="158.29999999999998" textLength="26.5" lengthAdjust="spacingAndGlyphs">200</text>
<text x="76" y="217.1" textLength="26.5" lengthAdjust="spacingAndGlyphs">150</text>
<text x="76" y="275.9" textLength="26.5" lengthAdjust="spacingAndGlyphs">100</text>
</g>
<g font-family="Liberation Sans, sans-serif" font-size="17" fill="#1a1a1a" text-anchor="middle">
<text x="89" y="323.6" textLength="9" lengthAdjust="spacingAndGlyphs">0</text>
<text x="208" y="323.6" textLength="17.7" lengthAdjust="spacingAndGlyphs">98</text>
<text x="327.3" y="323.6" textLength="26.5" lengthAdjust="spacingAndGlyphs">196</text>
<text x="420.8" y="323.6" textLength="26.5" lengthAdjust="spacingAndGlyphs">273</text>
</g>
<text font-family="Liberation Sans, sans-serif" font-size="19.5" fill="#1a1a1a" x="227.3" y="350.8" textLength="139.6" lengthAdjust="spacingAndGlyphs">Gestation age (days)</text>
<g font-family="Liberation Sans, sans-serif" font-size="18.3" fill="#1a1a1a" transform="translate(37.3,198.8) rotate(-90)">
<text x="0" y="0" textLength="21.6" lengthAdjust="spacingAndGlyphs">PLT</text>
<text x="24.6" y="0" textLength="5" lengthAdjust="spacingAndGlyphs">(</text>
<text x="36.2" y="0.3" font-size="18.5" text-anchor="middle">×</text>
<text x="43.3" y="0" textLength="17.3" lengthAdjust="spacingAndGlyphs">10</text>
<text x="62.6" y="-6.5" font-size="14.5" textLength="6" lengthAdjust="spacingAndGlyphs">9</text>
<text x="69" y="0" textLength="16.2" lengthAdjust="spacingAndGlyphs">/L)</text>
</g>
<g font-family="Liberation Sans, sans-serif" font-size="16.5" fill="#1a1a1a" text-anchor="middle">
<text x="148.6" y="43.9">1st</text>
<text x="148.6" y="64" textLength="65" lengthAdjust="spacingAndGlyphs">trimester</text>
<text x="267.6" y="43.9">2nd</text>
<text x="267.6" y="64" textLength="65" lengthAdjust="spacingAndGlyphs">trimester</text>
<text x="374.6" y="43.9">3rd</text>
<text x="374.6" y="64" textLength="65" lengthAdjust="spacingAndGlyphs">trimester</text>
<text x="421.1" y="53.1">D</text>
<text x="467.4" y="53.1">P</text>
</g>
<line x1="31.3" y1="370.9" x2="42.9" y2="370.9" stroke="#111" stroke-width="2.6"/>
<line x1="136.7" y1="371" x2="148.2" y2="371" stroke="#111" stroke-width="2.6" stroke-dasharray="3.4 4.7"/>
<rect x="213.3" y="364.2" width="13.8" height="13.6" fill="#fcc68c"/>
<line x1="214.5" y1="370.9" x2="225.9" y2="370.9" stroke="#f08c12" stroke-width="3"/>
<rect x="323.4" y="364.2" width="13.8" height="13.6" fill="#b0d2f0"/>
<line x1="324.59999999999997" y1="370.9" x2="336.0" y2="370.9" stroke="#5199d4" stroke-width="3"/>
<rect x="416" y="364.2" width="13.8" height="13.6" fill="#b8d8a4"/>
<line x1="417.2" y1="370.9" x2="428.6" y2="370.9" stroke="#36a834" stroke-width="3"/>
<g font-family="Liberation Sans, sans-serif" font-size="16.5" fill="#1a1a1a">
<text x="49.8" y="376" textLength="72.5" lengthAdjust="spacingAndGlyphs">Longgang</text>
<text x="155.6" y="376" textLength="44.2" lengthAdjust="spacingAndGlyphs">Baoan</text>
<text x="234.4" y="376" textLength="75.8" lengthAdjust="spacingAndGlyphs">Severe GT</text>
<text x="343.8" y="376" textLength="58.7" lengthAdjust="spacingAndGlyphs">Mild GT</text>
<text x="436.9" y="376" textLength="50" lengthAdjust="spacingAndGlyphs">control</text>
</g>
<rect x="0.5" y="0.5" width="519" height="393" fill="none" stroke="#000" stroke-width="1.2"/>
</svg>
</body></html>
